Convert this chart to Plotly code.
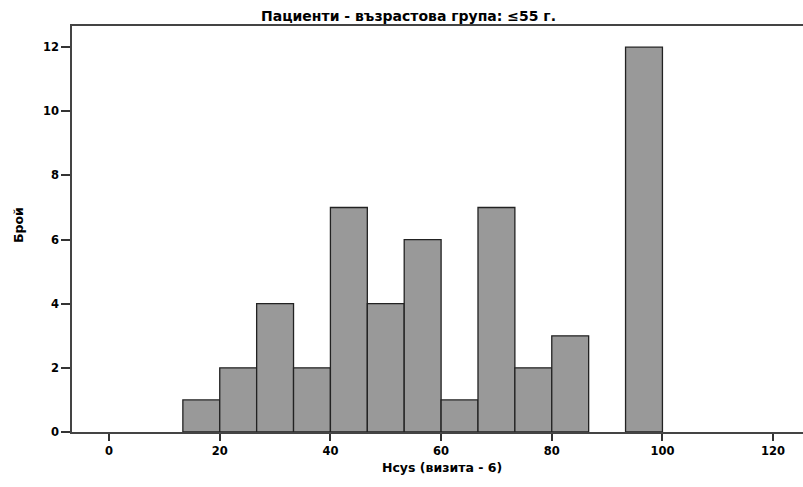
import plotly.graph_objects as go

# Histogram bins (lower/upper edges) and patient counts per bin
bin_edges = [13.333, 20.0, 26.667, 33.333, 40.0, 46.667, 53.333, 60.0,
             66.667, 73.333, 80.0, 86.667, 93.333, 100.0]
counts = [1, 2, 4, 2, 7, 4, 6, 1, 7, 2, 3, 0, 12]

x_ticks = [0, 20, 40, 60, 80, 100, 120]
y_ticks = [0, 2, 4, 6, 8, 10, 12]

title_text = "Пациенти - възрастова група: \u226455 г."
x_title = "Hcys (визита - 6)"
y_title = "Брой"

centers = [(a + b) / 2 for a, b in zip(bin_edges[:-1], bin_edges[1:])]
widths = [b - a for a, b in zip(bin_edges[:-1], bin_edges[1:])]
# empty bins get no outline
outline_w = [1.3 if c > 0 else 0 for c in counts]

FONT = "DejaVu Sans, Verdana, sans-serif"
W, H = 803, 487
ML, MR, MT, MB = 72, 0, 26, 55
plot_w = W - ML - MR
plot_h = H - MT - MB

fig = go.Figure(go.Bar(
    x=centers,
    y=counts,
    width=widths,
    marker=dict(color="#999999", line=dict(color="#222222", width=outline_w)),
    hoverinfo="x+y",
))

fig.update_layout(
    width=W,
    height=H,
    margin=dict(l=ML, r=MR, t=MT, b=MB),
    paper_bgcolor="white",
    plot_bgcolor="white",
    showlegend=False,
    font=dict(family=FONT, color="#000000", size=12),
    annotations=[
        dict(text=title_text, xref="paper", yref="paper",
             x=(408 - ML) / plot_w, y=1 + (MT - 16) / plot_h,
             xanchor="center", yanchor="middle", showarrow=False,
             font=dict(size=14, weight="bold", family=FONT)),
        dict(text=x_title, xref="paper", yref="paper",
             x=(442 - ML) / plot_w, y=-(467 - (H - MB)) / plot_h,
             xanchor="center", yanchor="middle", showarrow=False,
             font=dict(size=12.5, weight="bold", family=FONT)),
        dict(text=y_title, xref="paper", yref="paper",
             x=-(ML - 18) / plot_w, y=(H - MB - 225) / plot_h,
             xanchor="center", yanchor="middle", showarrow=False, textangle=-90,
             font=dict(size=12.5, weight="bold", family=FONT)),
    ],
)

fig.update_xaxes(
    range=[-6.7, 125.4],
    tickvals=x_ticks,
    ticks="outside",
    ticklen=7,
    tickwidth=1.5,
    tickcolor="#333333",
    showline=True,
    linecolor="#444444",
    linewidth=1.5,
    mirror=True,
    showgrid=False,
    zeroline=False,
    tickfont=dict(size=11.5, weight="bold", family=FONT),
)
fig.update_yaxes(
    range=[0, 12.66],
    tickvals=y_ticks,
    ticks="outside",
    ticklen=9,
    tickwidth=1.5,
    tickcolor="#333333",
    showline=True,
    linecolor="#444444",
    linewidth=1.5,
    showgrid=False,
    zeroline=False,
    tickfont=dict(size=11.5, weight="bold", family=FONT),
)

fig.write_html("out.html")
